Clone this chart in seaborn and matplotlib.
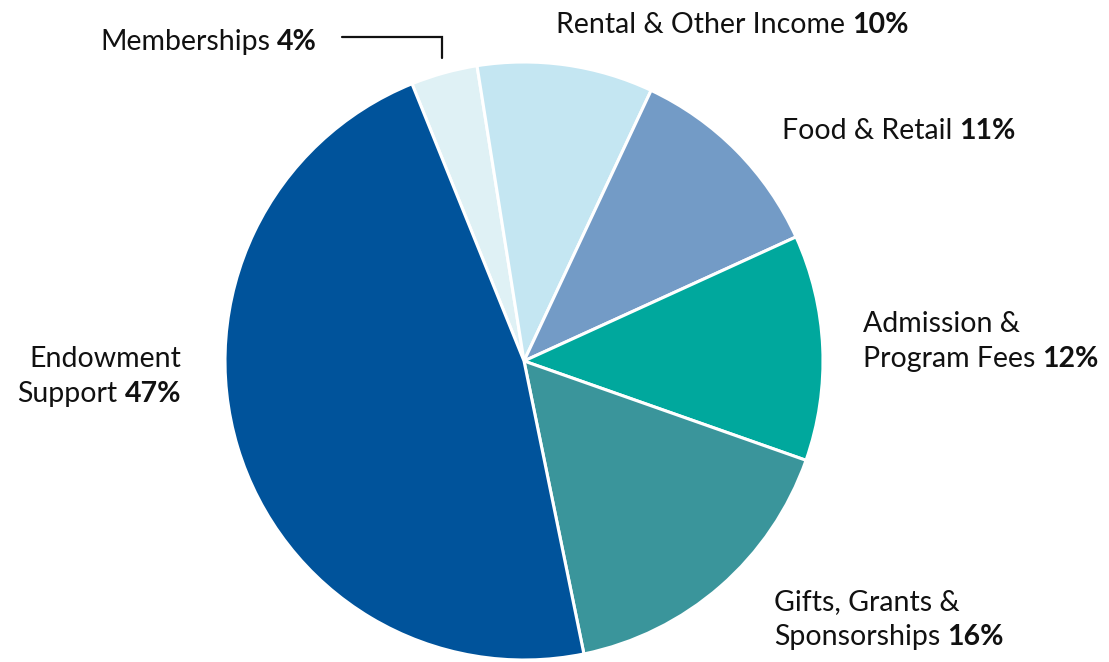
import matplotlib
matplotlib.use("Agg")
import matplotlib.pyplot as plt
import seaborn as sns

# ---- data ----
categories = ["Memberships", "Rental & Other Income", "Food & Retail",
              "Admission & Program Fees", "Gifts, Grants & Sponsorships",
              "Endowment Support"]
values = [3.6, 9.5, 11.2, 12.2, 16.4, 47.1]
colors = ["#DFF1F5", "#C4E6F2", "#739BC6", "#00A89D", "#3A959B", "#00539B"]
label_lines = [
    ["Memberships "],
    ["Rental & Other Income "],
    ["Food & Retail "],
    ["Admission &", "Program Fees "],
    ["Gifts, Grants &", "Sponsorships "],
    ["Endowment", "Support "],
]
pct_labels = ["4%", "10%", "11%", "12%", "16%", "47%"]

sns.set_theme(style="white")
FONT = ["Lato", "DejaVu Sans"]
plt.rcParams["font.family"] = FONT

W, H = 1109, 662
fig = plt.figure(figsize=(W / 100, H / 100), dpi=100)
ax = fig.add_axes([0, 0, 1, 1])

R = 299.0
CX, CY = 524.0, 361.0

def px(x, y):
    return (x - CX) / R, (CY - y) / R

ax.pie(values, colors=colors, startangle=112, counterclock=False, radius=1.0,
       wedgeprops=dict(edgecolor="white", linewidth=2.2))
ax.set_xlim(px(0, 0)[0], px(W, 0)[0])
ax.set_ylim(px(0, H)[1], px(0, 0)[1])
ax.set_aspect("equal")
ax.axis("off")

FS = 20.5
TC = "#111111"
positions = [
    ([(100, 50)], "left"),
    ([(556, 33)], "left"),
    ([(782, 139)], "left"),
    ([(863, 332), (863, 367)], "left"),
    ([(774, 610), (774, 645)], "left"),
    ([(181, 367), (181, 402)], "right"),
]

fig.canvas.draw()
renderer = fig.canvas.get_renderer()
inv = ax.transData.inverted()
for lines, pct, (pos, ha) in zip(label_lines, pct_labels, positions):
    for i, (line, (x, y)) in enumerate(zip(lines, pos)):
        last = i == len(lines) - 1
        tx, ty = px(x, y)
        if not last:
            ax.text(tx, ty, line, fontsize=FS, ha=ha, va="baseline", color=TC)
            continue
        if ha == "left":
            t1 = ax.text(tx, ty, line.rstrip(), fontsize=FS, ha="left",
                         va="baseline", color=TC)
            bb = t1.get_window_extent(renderer)
            bx = inv.transform((bb.x1 + 7, 0))[0]
            ax.text(bx, ty, pct, fontsize=FS, fontweight="bold", ha="left",
                    va="baseline", color=TC)
        else:
            t2 = ax.text(tx, ty, pct, fontsize=FS, fontweight="bold", ha="right",
                         va="baseline", color=TC)
            bb = t2.get_window_extent(renderer)
            lx = inv.transform((bb.x0 - 7, 0))[0]
            ax.text(lx, ty, line.rstrip(), fontsize=FS, ha="right",
                    va="baseline", color=TC)

# leader line for Memberships
lx0, ly0 = px(342, 37)
lx1, ly1 = px(442, 37)
lx2, ly2 = px(442, 58)
ax.plot([lx0, lx1, lx2], [ly0, ly1, ly2], color=TC, lw=1.6,
        solid_joinstyle="miter")

fig.savefig("out.png", dpi=100, facecolor="white")
